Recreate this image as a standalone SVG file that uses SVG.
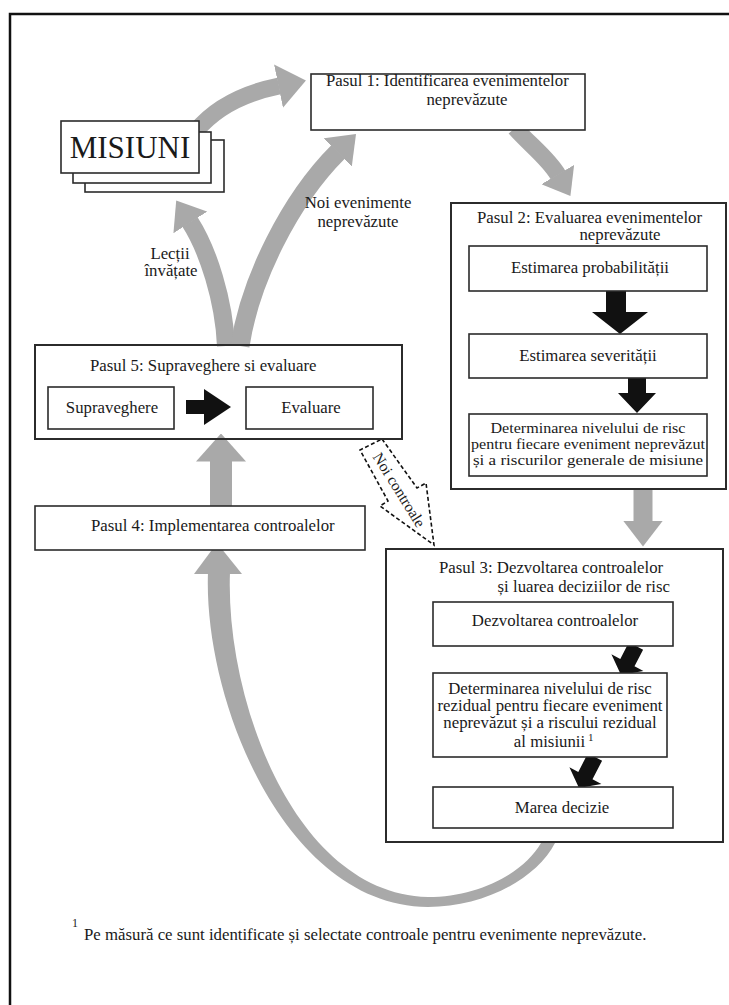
<svg xmlns="http://www.w3.org/2000/svg" width="729" height="1005" viewBox="0 0 729 1005">
<style>
.box{fill:#fff;stroke:#2b2b2b;stroke-width:1.6}
.cont{fill:none;stroke:#2b2b2b;stroke-width:2}
.t{font-family:"Liberation Serif","Times New Roman",serif;font-size:16.8px;fill:#1a1a1a}
.m{text-anchor:middle}
.e{text-anchor:end}
.sm{font-size:15px}
.sup{font-size:11px}
.big{font-size:31px}
.nc{font-size:15.5px}
.g{fill:none;stroke:#a9a9a9}
.gf{fill:#a9a9a9}
.k{fill:#111}
.dash{fill:#fff;stroke:#111;stroke-width:1.6;stroke-dasharray:4 2.5}
</style>
<defs>
<marker id="hL" markerUnits="userSpaceOnUse" orient="auto" markerWidth="28" markerHeight="50" viewBox="0 0 28 50" refX="0.5" refY="25"><path d="M0,0 L28,25 L0,50 z" fill="#a9a9a9"/></marker>
<marker id="hA" markerUnits="userSpaceOnUse" orient="auto" markerWidth="28" markerHeight="44" viewBox="0 0 28 44" refX="0.5" refY="22"><path d="M0,0 L28,22 L0,44 z" fill="#a9a9a9"/></marker>
<marker id="hM" markerUnits="userSpaceOnUse" orient="auto" markerWidth="26" markerHeight="40" viewBox="0 0 26 40" refX="0.5" refY="20"><path d="M0,0 L26,20 L0,40 z" fill="#a9a9a9"/></marker>
<marker id="hS" markerUnits="userSpaceOnUse" orient="auto" markerWidth="25" markerHeight="38" viewBox="0 0 25 38" refX="0.5" refY="19"><path d="M0,0 L25,19 L0,38 z" fill="#a9a9a9"/></marker>
</defs>
<rect x="10" y="14" width="740" height="1000" fill="none" stroke="#111" stroke-width="2.5"/>

<g id="connectors">
<path class="g" stroke-width="17" d="M196,131 C215,108 245,93 279,86" marker-end="url(#hA)"/>
<path class="g" stroke-width="17" d="M515,128 C530,145 548,158 558,175" marker-end="url(#hS)"/>
<path class="g" stroke-width="19" d="M643,489 L643,521" marker-end="url(#hM)"/>
<path class="g" stroke-width="22" d="M221,506 L221,461" marker-end="url(#hL)"/>
<path class="g" stroke-width="18" d="M226,346 C224,300 208,250 190,222" marker-end="url(#hM)"/>
<path class="g" stroke-width="19" d="M240,346 C250,280 290,200 338,152" marker-end="url(#hM)"/>
<path class="gf" d="M541,843 C524,873 478,897 428,897 C295,894 225,700 230,572 L208,572 C203,700 285,906 428,907 C482,907 536,880 555,843 Z"/>
<polygon class="gf" points="194,574 242,574 217,543"/>
<path class="k" d="M186,400 H204 V389 L231,407 L204,425 V414 H186 Z"/>
<path class="k" d="M606,288 H626 V312 H648 L620,334 L592,312 H606 Z"/>
<path class="k" d="M628,374 H646 V393 H656 L637,413 L618,393 H628 Z"/>
<polygon class="k" points="628.9,642.3 643.1,649.7 634.5,666.3 643.4,670.9 621,675 611.4,654.3 620.3,658.9"/>
<polygon class="k" points="587.9,753.3 602.1,760.7 592.5,779.3 601.4,783.9 579,788 569.4,767.3 578.3,771.9"/>
<polygon class="dash" points="382,439 417,488 426,483 434,545 380,506 388,501 360,450"/>
<text class="t m nc" transform="translate(399,490) rotate(58)" x="0" y="5">Noi controale</text>
<text class="t m" x="170" y="259">Lecții</text>
<text class="t m" x="171" y="276">învățate</text>
<text class="t m" x="358" y="208">Noi evenimente</text>
<text class="t m" x="358" y="227">neprevăzute</text>
</g>

<g id="misiuni">
<rect class="box" x="85" y="140" width="139" height="52"/>
<rect class="box" x="73" y="132" width="138" height="51"/>
<rect class="box" x="61" y="121" width="138" height="52"/>
<text class="t m big" x="130" y="158">MISIUNI</text>
</g>

<g id="pasul1">
<rect class="box" x="311" y="74" width="274" height="56"/>
<text class="t" x="326" y="86">Pasul 1: Identificarea evenimentelor</text>
<text class="t m" x="467" y="105">neprevăzute</text>
</g>

<g id="pasul2">
<rect class="cont" x="451" y="203" width="275" height="286"/>
<text class="t" x="477" y="223">Pasul 2: Evaluarea evenimentelor</text>
<text class="t m" x="620" y="240">neprevăzute</text>
</g>
<g id="estimarea-probabilitatii">
<rect class="box" x="469" y="246" width="238" height="45"/>
<text class="t m" x="590" y="273">Estimarea probabilității</text>
</g>
<g id="estimarea-severitatii">
<rect class="box" x="469" y="334" width="238" height="44"/>
<text class="t m" x="588" y="361">Estimarea severității</text>
</g>
<g id="determinarea-risc">
<rect class="box" x="469" y="414" width="238" height="62"/>
<text class="t m sm" x="588" y="433" textLength="195" lengthAdjust="spacingAndGlyphs">Determinarea nivelului de risc</text>
<text class="t m sm" x="588" y="449" textLength="234" lengthAdjust="spacingAndGlyphs">pentru fiecare eveniment neprevăzut</text>
<text class="t m sm" x="588" y="465" textLength="230" lengthAdjust="spacingAndGlyphs">și a riscurilor generale de misiune</text>
</g>

<g id="pasul3">
<rect class="cont" x="386" y="549" width="337" height="293"/>
<text class="t" x="439" y="573">Pasul 3: Dezvoltarea controalelor</text>
<text class="t e" x="670" y="592">și luarea deciziilor de risc</text>
</g>
<g id="dezvoltarea-controalelor">
<rect class="box" x="433" y="602" width="240" height="44"/>
<text class="t m" x="555" y="626">Dezvoltarea controalelor</text>
</g>
<g id="determinarea-rezidual">
<rect class="box" x="433" y="673" width="234" height="84"/>
<text class="t m" x="550" y="693.5">Determinarea nivelului de risc</text>
<text class="t m" x="550" y="710.5">rezidual pentru fiecare eveniment</text>
<text class="t m" x="550" y="727.5">neprevăzut și a riscului rezidual</text>
<text class="t m" x="549.5" y="747">al misiunii</text>
<text class="t sup" x="588" y="741">1</text>
</g>
<g id="marea-decizie">
<rect class="box" x="433" y="787" width="240" height="41"/>
<text class="t m" x="562" y="812.5">Marea decizie</text>
</g>

<g id="pasul5">
<rect class="cont" x="35" y="345" width="367" height="94"/>
<text class="t" x="90" y="371">Pasul 5: Supraveghere si evaluare</text>
</g>
<g id="supraveghere">
<rect class="box" x="48" y="387" width="126" height="42"/>
<text class="t m" x="112" y="413">Supraveghere</text>
</g>
<g id="evaluare">
<rect class="box" x="246" y="387" width="127" height="42"/>
<text class="t m" x="311" y="413">Evaluare</text>
</g>

<g id="pasul4">
<rect class="box" x="35" y="506" width="330" height="44"/>
<text class="t" x="91" y="531">Pasul 4: Implementarea controalelor</text>
</g>

<g id="footnote">
<text class="t" x="72" y="927" style="font-size:12px">1</text>
<text class="t" x="84" y="940">Pe măsură ce sunt identificate și selectate controale pentru evenimente neprevăzute.</text>
</g>
</svg>
